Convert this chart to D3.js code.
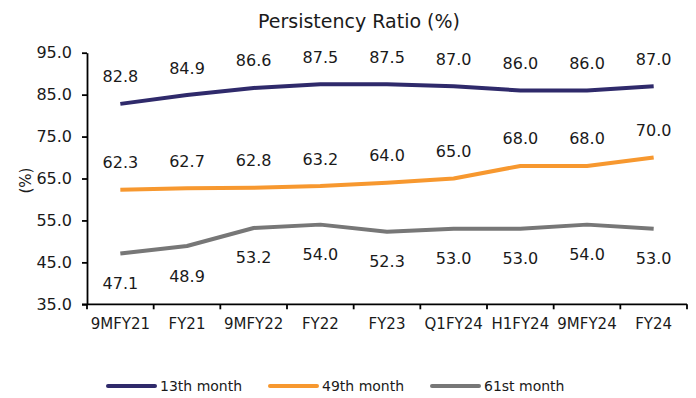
<!DOCTYPE html>
<html>
<head>
<meta charset="utf-8">
<script src="https://cdn.jsdelivr.net/npm/d3@7"></script>
<style>
  html, body { margin: 0; padding: 0; background: #fff; }
  svg { display: block; font-family: "DejaVu Sans", Verdana, sans-serif; }
</style>
</head>
<body>
<svg id="chart" width="696" height="398"></svg>
<script>
const categories = ["9MFY21", "FY21", "9MFY22", "FY22", "FY23", "Q1FY24", "H1FY24", "9MFY24", "FY24"];
const month13 = [82.8, 84.9, 86.6, 87.5, 87.5, 87.0, 86.0, 86.0, 87.0];
const month49 = [62.3, 62.7, 62.8, 63.2, 64.0, 65.0, 68.0, 68.0, 70.0];
const month61 = [47.1, 48.9, 53.2, 54.0, 52.3, 53.0, 53.0, 54.0, 53.0];
const yTicks = [35, 45, 55, 65, 75, 85, 95];
const seriesNames = ["13th month", "49th month", "61st month"];
const titleText = "Persistency Ratio (%)";
const yLabelText = "(%)";

const colors = ["#2f2a6b", "#f7982f", "#777777"];
const series = [
  { name: seriesNames[0], values: month13, color: colors[0], pos: "above" },
  { name: seriesNames[1], values: month49, color: colors[1], pos: "above" },
  { name: seriesNames[2], values: month61, color: colors[2], pos: "below" }
];

const svg = d3.select("#chart");
const mLeft = 87, mRight = 687, mTop = 52.7, mBottom = 304.3;

const x = d3.scaleBand().domain(categories).range([mLeft, mRight]).paddingInner(0).paddingOuter(0);
const y = d3.scaleLinear().domain([35, 95]).range([mBottom, mTop]);

// Title
svg.append("text")
  .attr("x", 359).attr("y", 21)
  .attr("text-anchor", "middle").attr("dominant-baseline", "central")
  .attr("font-size", 19).attr("fill", "#1a1a1a")
  .text(titleText);

// Y axis
const yAxis = d3.axisLeft(y).tickValues(yTicks).tickFormat(d3.format(".1f")).tickSize(5).tickSizeOuter(0).tickPadding(10);
const gy = svg.append("g").attr("transform", `translate(${mLeft},0)`).call(yAxis);
gy.select(".domain").attr("stroke", "#000").attr("stroke-width", 1.8);
gy.selectAll(".tick line").attr("stroke", "#000").attr("stroke-width", 1.8);
gy.selectAll(".tick text").attr("font-size", 16).attr("fill", "#1a1a1a").attr("font-family", "DejaVu Sans, Verdana, sans-serif");

// X axis with ticks at band boundaries
const xAxis = d3.axisBottom(x).tickSize(0).tickPadding(14);
const gx = svg.append("g").attr("transform", `translate(0,${mBottom})`).call(xAxis);
gx.select(".domain").remove();
gx.selectAll(".tick text").attr("font-size", 15).attr("fill", "#1a1a1a").attr("font-family", "DejaVu Sans, Verdana, sans-serif");
gx.append("line").attr("x1", mLeft - 5).attr("x2", mRight).attr("y1", 0).attr("y2", 0)
  .attr("stroke", "#000").attr("stroke-width", 1.8);
const bounds = categories.map(c => x(c)).concat([x(categories[categories.length - 1]) + x.bandwidth()]);
gx.selectAll("line.bt").data(bounds).enter().append("line").attr("class", "bt")
  .attr("x1", d => d).attr("x2", d => d).attr("y1", 0).attr("y2", 5)
  .attr("stroke", "#000").attr("stroke-width", 1.8);

// Y label
svg.append("text")
  .attr("transform", `translate(26,${(mTop + mBottom) / 2 + 2}) rotate(-90)`)
  .attr("text-anchor", "middle").attr("dominant-baseline", "central")
  .attr("font-size", 15).attr("fill", "#1a1a1a")
  .text(yLabelText);

const cx = c => x(c) + x.bandwidth() / 2;
const line = d3.line().x((d, i) => cx(categories[i])).y(d => y(d));

series.forEach(s => {
  svg.append("path").datum(s.values)
    .attr("d", line).attr("fill", "none")
    .attr("stroke", s.color).attr("stroke-width", 4)
    .attr("stroke-linejoin", "round");
  svg.append("g").selectAll("text").data(s.values).enter().append("text")
    .attr("x", (d, i) => cx(categories[i]))
    .attr("y", d => s.pos === "above" ? y(d) - 27 : y(d) + 30)
    .attr("text-anchor", "middle").attr("dominant-baseline", "central")
    .attr("font-size", 16).attr("fill", "#1a1a1a")
    .text(d => d.toFixed(1));
});

// Legend
const legendX = [108, 270, 432];
const legendY = 386;
series.forEach((s, i) => {
  svg.append("line")
    .attr("x1", legendX[i]).attr("x2", legendX[i] + 47)
    .attr("y1", legendY).attr("y2", legendY)
    .attr("stroke", s.color).attr("stroke-width", 4).attr("stroke-linecap", "round");
  svg.append("text")
    .attr("x", legendX[i] + 52).attr("y", legendY)
    .attr("dominant-baseline", "central")
    .attr("font-size", 14).attr("fill", "#1a1a1a")
    .text(s.name);
});
</script>
</body>
</html>
